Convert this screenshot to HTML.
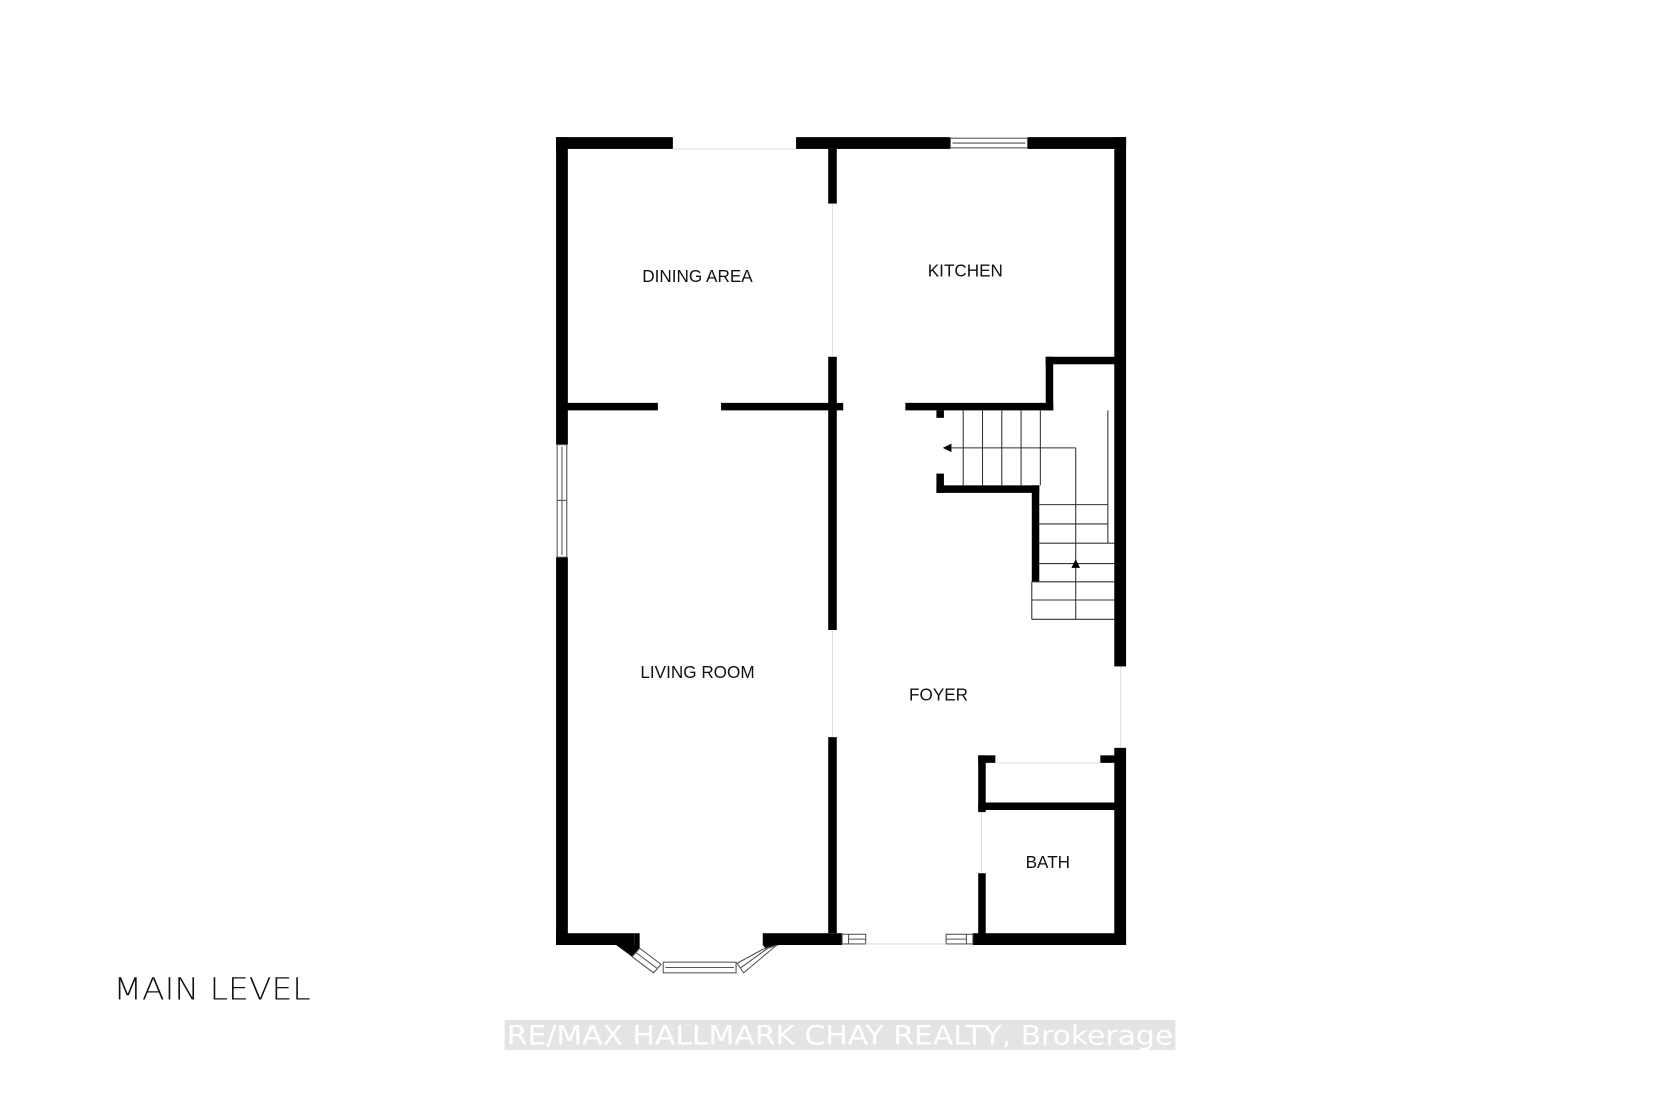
<!DOCTYPE html>
<html><head><meta charset="utf-8"><style>
html,body{margin:0;padding:0;background:#fff;}
svg{display:block}
text{font-family:"Liberation Sans",Arial,sans-serif;}
</style></head><body>
<svg width="1680" height="1120" viewBox="0 0 1568 1045.33" preserveAspectRatio="none" xmlns="http://www.w3.org/2000/svg">
<rect width="1568" height="1046" fill="#fff"/>
<g fill="#000">
<rect x="519" y="128" width="109" height="11"/>
<rect x="743" y="128" width="144" height="11"/>
<rect x="959" y="128" width="92" height="11"/>
<rect x="519" y="128" width="11" height="287"/>
<rect x="519" y="520" width="11" height="362"/>
<rect x="1040" y="128" width="11" height="494"/>
<rect x="1040" y="698" width="11" height="184"/>
<rect x="519" y="871" width="73" height="11"/>
<rect x="712" y="871" width="74" height="11"/>
<rect x="908" y="871" width="143" height="11"/>
<polygon points="575,882 592,882 592,871 597,871 597,885 590,893"/>
<polygon points="712,871 727,882 715,886 712,882"/>
<rect x="773" y="139" width="8" height="51"/>
<rect x="773" y="333" width="8" height="255"/>
<rect x="773" y="688" width="8" height="183"/>
<rect x="529" y="376" width="85" height="7"/>
<rect x="673" y="376" width="114" height="7"/>
<rect x="845" y="376" width="138" height="7"/>
<rect x="976" y="333" width="7" height="50"/>
<rect x="976" y="333" width="65" height="7"/>
<rect x="874" y="383" width="7" height="7"/>
<rect x="874" y="442" width="7" height="18"/>
<rect x="874" y="453" width="96" height="7"/>
<rect x="963" y="453" width="7" height="90"/>
<rect x="913" y="705" width="7" height="53"/>
<rect x="913" y="815" width="7" height="60"/>
<rect x="913" y="705" width="16" height="7"/>
<rect x="1027" y="705" width="15" height="7"/>
<rect x="913" y="749" width="128" height="7"/>
</g>
<g fill="none" stroke="#555" stroke-width="1">
<rect x="887" y="129" width="72" height="9" fill="#fff"/>
<line x1="889" y1="133.5" x2="957" y2="133.5"/>
<rect x="520" y="415" width="9" height="105"/>
<line x1="524.5" y1="417" x2="524.5" y2="518"/>
<line x1="520" y1="467" x2="529" y2="467"/>
<rect x="786" y="872" width="22" height="9"/>
<line x1="792" y1="872" x2="792" y2="881"/><line x1="792" y1="876.5" x2="808" y2="876.5"/>
<rect x="883" y="872" width="25" height="9"/>
<line x1="902" y1="872" x2="902" y2="881"/><line x1="883" y1="876.5" x2="902" y2="876.5"/>
<rect x="619" y="898" width="68" height="10"/>
<line x1="621" y1="903" x2="685" y2="903"/>
<polygon points="597,885 590,893 610,908 617,900"/>
<line x1="593.5" y1="889" x2="613.5" y2="904"/>
<polygon points="712,886 725,882 694,908 688,899"/>
<line x1="718" y1="884" x2="691" y2="903.5"/>
<line x1="628" y1="139" x2="743" y2="139" stroke="#ddd"/>
<line x1="777" y1="190" x2="777" y2="333" stroke="#ddd"/>
<line x1="777" y1="588" x2="777" y2="688" stroke="#ddd"/>
<line x1="1046" y1="622" x2="1046" y2="698" stroke="#ddd"/>
<line x1="808" y1="881" x2="883" y2="881" stroke="#ddd"/>
<line x1="929" y1="712" x2="1027" y2="712" stroke="#ddd"/>
<line x1="916" y1="758" x2="916" y2="815" stroke="#ddd"/>
<g stroke="#333">
<line x1="899" y1="383" x2="899" y2="453"/>
<line x1="917" y1="383" x2="917" y2="453"/>
<line x1="935" y1="383" x2="935" y2="453"/>
<line x1="953" y1="383" x2="953" y2="453"/>
<line x1="971" y1="383" x2="971" y2="453"/>
<line x1="1034" y1="383" x2="1034" y2="507"/>
<line x1="970" y1="471" x2="1034" y2="471"/>
<line x1="970" y1="489" x2="1034" y2="489"/>
<line x1="970" y1="507" x2="1040" y2="507"/>
<line x1="970" y1="526" x2="1040" y2="526"/>
<line x1="963" y1="543" x2="1040" y2="543"/>
<line x1="963" y1="560" x2="1040" y2="560"/>
<line x1="963" y1="578" x2="1040" y2="578"/>
<line x1="963" y1="543" x2="963" y2="578"/>
<line x1="1004" y1="418" x2="887" y2="418"/>
<line x1="1004" y1="418" x2="1004" y2="578"/>
</g>
</g>
<polygon points="880,418 888,414 888,422" fill="#000"/>
<polygon points="1004,522 1000,530 1008,530" fill="#000"/>
<g font-size="16" fill="#111" text-anchor="middle">
<text x="651" y="263">DINING AREA</text>
<text x="901" y="258">KITCHEN</text>
<text x="651" y="633">LIVING ROOM</text>
<text x="876" y="654">FOYER</text>
<text x="978" y="810">BATH</text>
</g>
<text x="106" y="933" font-size="28" fill="#111" textLength="184" lengthAdjust="spacingAndGlyphs" style="font-family:'DejaVu Sans','Liberation Sans',sans-serif;font-weight:300">MAIN LEVEL</text>
<rect x="471" y="952" width="626" height="28" fill="#e4e4e4"/>
<text x="784" y="975" font-size="25" fill="#fff" text-anchor="middle" textLength="622" lengthAdjust="spacingAndGlyphs" style="font-family:'DejaVu Sans Condensed','DejaVu Sans',sans-serif">RE/MAX HALLMARK CHAY REALTY, Brokerage</text>
</svg>
</body></html>
